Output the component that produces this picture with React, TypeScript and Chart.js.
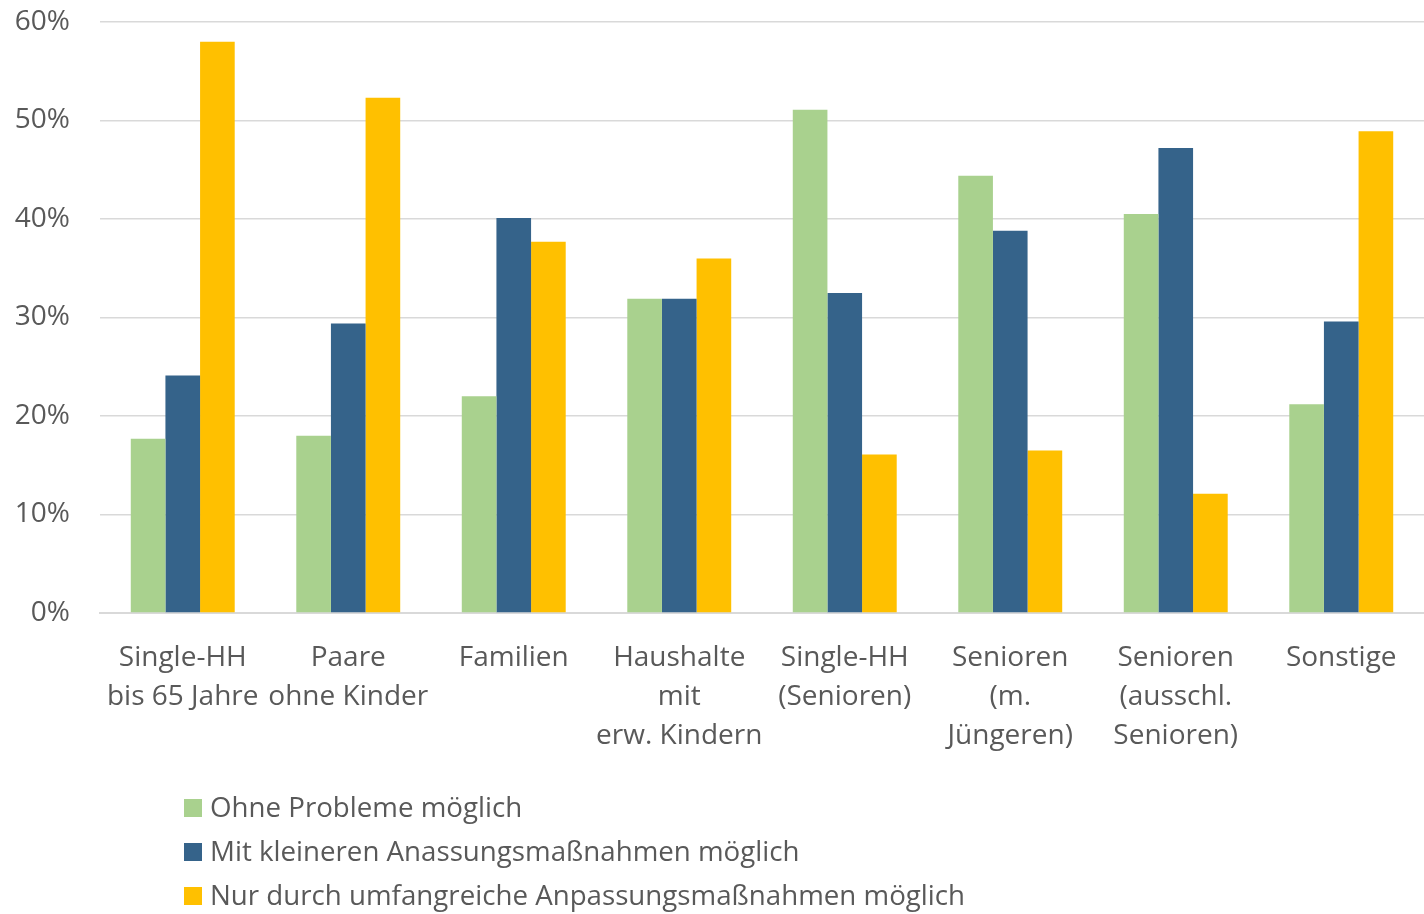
import React, { useEffect, useRef } from "react";
import { Chart, registerables } from "chart.js";

Chart.register(...registerables);

const categories: string[][] = [
  ["Single-HH", "bis 65 Jahre"],
  ["Paare", "ohne Kinder"],
  ["Familien"],
  ["Haushalte", "mit", "erw. Kindern"],
  ["Single-HH", "(Senioren)"],
  ["Senioren", "(m.", "Jüngeren)"],
  ["Senioren", "(ausschl.", "Senioren)"],
  ["Sonstige"],
];

const seriesNames = [
  "Ohne Probleme möglich",
  "Mit kleineren Anassungsmaßnahmen möglich",
  "Nur durch umfangreiche Anpassungsmaßnahmen möglich",
];

const ohneProbleme = [17.7, 18.0, 22.0, 31.9, 51.1, 44.4, 40.5, 21.2];
const kleinereMassnahmen = [24.1, 29.4, 40.1, 31.9, 32.5, 38.8, 47.2, 29.6];
const umfangreicheMassnahmen = [58.0, 52.3, 37.7, 36.0, 16.1, 16.5, 12.1, 48.9];

const colors = ["#A9D18E", "#35638A", "#FFC000"];
const TEXT = "#595959";
const FONT = "'Open Sans', 'Noto Sans', sans-serif";

const legendPlugin = {
  id: "customLegend",
  afterDraw(chart: any) {
    const ctx = chart.ctx;
    ctx.save();
    ctx.font = `27.7px ${FONT}`;
    ctx.textBaseline = "middle";
    chart.data.datasets.forEach((ds: any, i: number) => {
      const y = 808 + i * 44;
      ctx.fillStyle = ds.backgroundColor;
      ctx.fillRect(184, y - 9, 18, 18);
      ctx.fillStyle = TEXT;
      ctx.textAlign = "left";
      ctx.fillText(ds.label, 210, y + 1);
    });
    ctx.restore();
  },
};

export default function App() {
  const ref = useRef<HTMLCanvasElement | null>(null);
  useEffect(() => {
    if (!ref.current) return;
    const data = [ohneProbleme, kleinereMassnahmen, umfangreicheMassnahmen];
    const chart = new Chart(ref.current, {
      type: "bar",
      data: {
        labels: categories,
        datasets: seriesNames.map((name, i) => ({
          label: name,
          data: data[i],
          backgroundColor: colors[i],
          borderWidth: 0,
          barPercentage: 1,
          categoryPercentage: 0.628,
        })),
      },
      options: {
        animation: false,
        responsive: false,
        maintainAspectRatio: false,
        layout: { padding: { top: 22, right: 0, left: 0, bottom: 0 } },
        plugins: {
          legend: { display: false },
          tooltip: { enabled: false },
        },
        scales: {
          x: {
            grid: { display: false, drawTicks: false },
            border: { display: true, color: "#D9D9D9", width: 2 },
            ticks: {
              color: TEXT,
              font: { family: FONT, size: 28, lineHeight: 1.39 },
              padding: 26,
              maxRotation: 0,
              autoSkip: false,
            },
            afterFit(scale: any) {
              scale.height = 301;
              scale.paddingLeft = 0;
              scale.paddingRight = 0;
            },
          },
          y: {
            min: 0,
            max: 60,
            ticks: {
              stepSize: 10,
              color: TEXT,
              font: { family: FONT, size: 28 },
              padding: 30,
              callback: (v: any) => `${v}%`,
            },
            grid: { color: "#D9D9D9", lineWidth: 1.5, drawTicks: false },
            border: { display: false },
            afterFit(scale: any) {
              scale.width = 100;
              scale.paddingTop = 0;
              scale.paddingBottom = 0;
            },
          },
        },
      },
      plugins: [legendPlugin],
    });
    return () => chart.destroy();
  }, []);
  return (
    <div style={{ position: "fixed", left: 0, top: 0, width: 1424, height: 914, background: "#fff" }}>
      <canvas ref={ref} width={1424} height={914} style={{ width: 1424, height: 914, display: "block" }} />
    </div>
  );
}
